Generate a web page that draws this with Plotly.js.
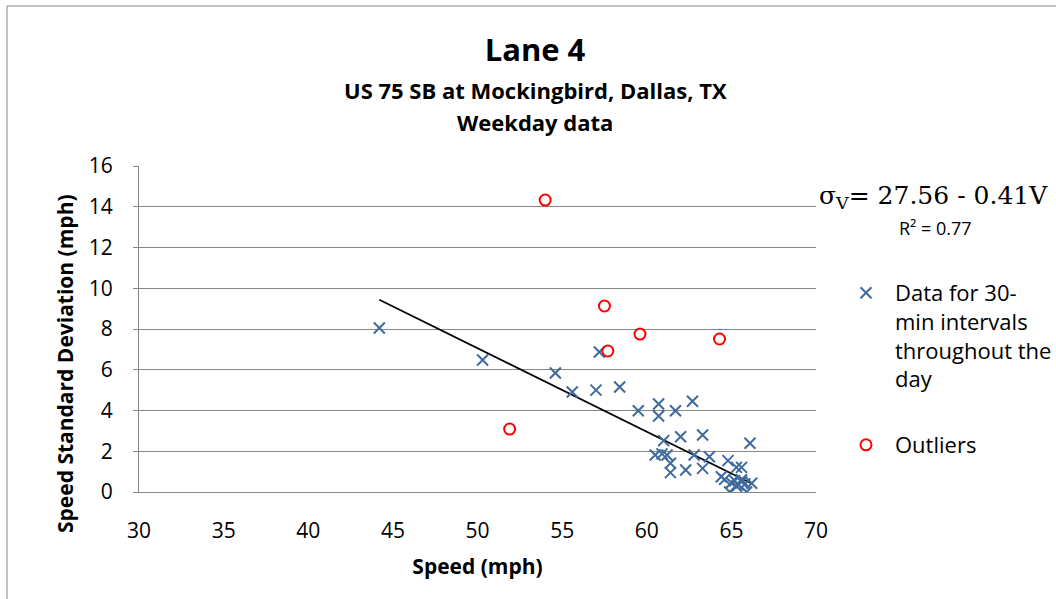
<!DOCTYPE html>
<html>
<head>
<meta charset="utf-8">
<script src="https://cdn.plot.ly/plotly-3.0.1.min.js"></script>
<style>
  html, body { margin: 0; padding: 0; background: #fff; }
  #chart { width: 1056px; height: 599px; }
</style>
</head>
<body>
<div id="chart"></div>
<script>
// ---- Data ----
const speedData = [44.2, 50.3, 54.6, 55.6, 57.0, 57.2, 58.4, 59.5, 60.7, 60.7, 62.7, 61.7,
  61.0, 62.0, 63.3, 66.1, 60.5, 60.9, 61.2, 61.4, 61.4, 62.3, 62.8, 63.3, 63.7, 64.8,
  64.4, 64.6, 65.3, 65.6, 65.0, 65.2, 65.4, 65.6, 65.8, 65.3, 65.6, 64.9, 65.9, 66.2];
const sdData = [8.05, 6.48, 5.84, 4.91, 5.00, 6.87, 5.15, 3.99, 4.32, 3.73, 4.45, 3.99,
  2.52, 2.71, 2.80, 2.39, 1.82, 1.87, 1.82, 1.41, 0.95, 1.08, 1.82, 1.16, 1.73, 1.54,
  0.75, 0.62, 1.21, 1.21, 0.45, 0.55, 0.35, 0.60, 0.40, 0.28, 0.50, 0.00, 0.00, 0.43];

const outlierSpeed = [54.0, 57.5, 59.6, 57.7, 64.3, 51.9];
const outlierSd = [14.33, 9.13, 7.75, 6.92, 7.51, 3.09];

const fitIntercept = 27.56;
const fitSlope = -0.41;
const fitR2 = 0.77;
const fitXRange = [44.2, 66.2];

const xTicks = [30, 35, 40, 45, 50, 55, 60, 65, 70];
const yTicks = [0, 2, 4, 6, 8, 10, 12, 14, 16];

const chartTitle = 'Lane 4';
const subTitle1 = 'US 75 SB at Mockingbird, Dallas, TX';
const subTitle2 = 'Weekday data';
const xTitle = 'Speed (mph)';
const yTitle = 'Speed Standard Deviation (mph)';
const dataName = 'Data for 30-<br>min intervals<br>throughout the<br>day';
const outlierName = 'Outliers';

// ---- Chart ----
const FONT = '"Open Sans", "Liberation Sans", sans-serif';
const GRID = '#858585';
const fitY = fitXRange.map(x => fitIntercept + fitSlope * x);

const traces = [
  {
    x: fitXRange, y: fitY, mode: 'lines', type: 'scatter',
    line: { color: '#000000', width: 1.8 }, showlegend: false, hoverinfo: 'skip'
  },
  {
    x: speedData, y: sdData, mode: 'markers', type: 'scatter', name: dataName,
    marker: { symbol: 'x-thin-open', size: 11, color: '#3f6a9e', line: { width: 2, color: '#3f6a9e' } },
    legend: 'legend'
  },
  {
    x: outlierSpeed, y: outlierSd, mode: 'markers', type: 'scatter', name: outlierName,
    marker: { symbol: 'circle-open', size: 11, color: '#ff0000', line: { width: 2, color: '#ff0000' } },
    legend: 'legend2'
  }
];

const W = 1056, H = 599;
const pxX = px => (px - 139) / 677;
const pxY = py => (492 - py) / 326;
const cX = px => px / W;
const cY = py => 1 - py / H;

const layout = {
  width: W, height: H,
  margin: { l: 139, r: 240, t: 166, b: 107, pad: 0 },
  paper_bgcolor: '#ffffff', plot_bgcolor: '#ffffff',
  font: { family: FONT, size: 21, color: '#000000' },
  title: {
    text: '<b>' + chartTitle + '</b>',
    font: { family: FONT, size: 31, color: '#000000' },
    xref: 'paper', x: pxX(535), xanchor: 'center',
    yref: 'container', y: cY(50), yanchor: 'middle'
  },
  xaxis: {
    range: [30, 70], tickvals: xTicks, ticktext: xTicks.map(String),
    showgrid: false, zeroline: false, showline: true, linecolor: GRID, linewidth: 1,
    ticks: '', ticklabelstandoff: 20,
    tickfont: { family: FONT, size: 21, color: '#000000' },
    title: { text: '<b>' + xTitle + '</b>', font: { family: FONT, size: 21 }, standoff: 16 },
    automargin: false, fixedrange: true
  },
  yaxis: {
    range: [0, 16], tickvals: yTicks, ticktext: yTicks.map(String),
    showgrid: true, gridcolor: GRID, gridwidth: 1,
    zeroline: false, showline: true, linecolor: GRID, linewidth: 1,
    ticks: 'outside', ticklen: 5, tickcolor: GRID, ticklabelstandoff: 16,
    tickfont: { family: FONT, size: 21, color: '#000000' },
    automargin: false, fixedrange: true
  },
  legend: {
    xref: 'container', yref: 'container',
    x: cX(837), xanchor: 'left', y: cY(272), yanchor: 'top',
    itemwidth: 48, valign: 'top', bgcolor: 'rgba(0,0,0,0)',
    font: { family: FONT, size: 22, color: '#000000' }
  },
  legend2: {
    xref: 'container', yref: 'container',
    x: cX(837), xanchor: 'left', y: cY(445), yanchor: 'middle',
    itemwidth: 48, valign: 'middle', bgcolor: 'rgba(0,0,0,0)',
    font: { family: FONT, size: 22, color: '#000000' }
  },
  annotations: [
    {
      text: '<b>' + subTitle1 + '</b>', xref: 'paper', yref: 'paper',
      x: pxX(535), y: pxY(90), xanchor: 'center', yanchor: 'middle', showarrow: false,
      font: { family: FONT, size: 22, color: '#000000' }
    },
    {
      text: '<b>' + subTitle2 + '</b>', xref: 'paper', yref: 'paper',
      x: pxX(535), y: pxY(122), xanchor: 'center', yanchor: 'middle', showarrow: false,
      font: { family: FONT, size: 22, color: '#000000' }
    },
    {
      text: '<b>' + yTitle + '</b>', xref: 'paper', yref: 'paper', textangle: -90,
      x: pxX(65), y: pxY(364), xanchor: 'center', yanchor: 'middle', showarrow: false,
      font: { family: FONT, size: 21, color: '#000000' }
    },
    {
      text: 'σ<sub>V</sub>= ' + fitIntercept.toFixed(2) + ' - ' + Math.abs(fitSlope).toFixed(2) + 'V',
      xref: 'paper', yref: 'paper', x: pxX(817), y: pxY(197), xanchor: 'left', yanchor: 'middle',
      showarrow: false, font: { family: '"DejaVu Serif", "Liberation Serif", serif', size: 25, color: '#000000' }
    },
    {
      text: 'R² = ' + fitR2.toFixed(2),
      xref: 'paper', yref: 'paper', x: pxX(935), y: pxY(228), xanchor: 'center', yanchor: 'middle',
      showarrow: false, font: { family: FONT, size: 18, color: '#000000' }
    }
  ],
  shapes: [
    {
      type: 'rect', xref: 'paper', yref: 'paper', layer: 'below',
      x0: pxX(7), x1: pxX(1080), y0: pxY(620), y1: pxY(6),
      line: { color: '#868686', width: 1 }, fillcolor: 'rgba(0,0,0,0)'
    }
  ],
  showlegend: true,
  hovermode: false
};

Plotly.newPlot('chart', traces, layout, { displayModeBar: false, staticPlot: true });
</script>
</body>
</html>
